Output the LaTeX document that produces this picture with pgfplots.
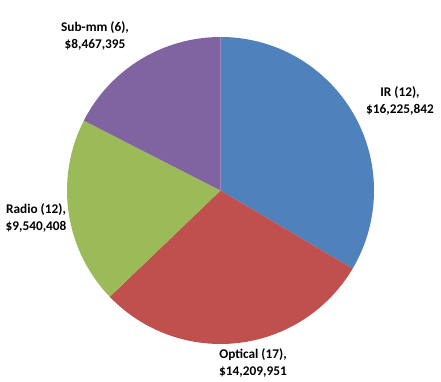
\documentclass[border=0pt]{standalone}
\usepackage{pgfplots}
\pgfplotsset{compat=1.18}
\usepackage{pgfplotstable}
\usepackage{fontspec}
\setmainfont{Carlito}

\definecolor{pieblue}{HTML}{4F81BD}
\definecolor{piered}{HTML}{C0504D}
\definecolor{piegreen}{HTML}{9BBB59}
\definecolor{piepurple}{HTML}{8064A2}

% funding per wavelength band (clockwise from 12 o'clock)
\pgfplotstableread[col sep=comma]{
name,n,value,color
IR,12,16225842,pieblue
Optical,17,14209951,piered
Radio,12,9540408,piegreen
Sub-mm,6,8467395,piepurple
}\budget

\begin{document}
\begin{tikzpicture}
\xdef\total{0}
\foreach \i in {0,...,3}{%
  \pgfplotstablegetelem{\i}{value}\of\budget
  \xdef\total{\fpeval{\total+\pgfplotsretval}}}
\begin{axis}[
    width=441pt, height=382pt, scale only axis,
    xmin=0, xmax=441, ymin=0, ymax=382,
    hide axis, clip=false,
]
\xdef\start{90}
\pgfplotsinvokeforeach{0,...,3}{%
  \pgfplotstablegetelem{#1}{value}\of\budget \let\sliceval\pgfplotsretval
  \pgfplotstablegetelem{#1}{color}\of\budget \let\slicecol\pgfplotsretval
  \xdef\stop{\fpeval{\start-360*\sliceval/\total}}
  \edef\cmd{\noexpand\fill[\slicecol] (axis cs:220.5,191.5) -- ++(\start:153.5pt)
    arc[start angle=\start, end angle=\stop, radius=153.5pt] -- cycle;}
  \cmd
  \xdef\start{\stop}
}
\path (axis cs:0,0) rectangle (axis cs:441,382);
\begin{scope}[every node/.style={align=center, font=\fontsize{13.3}{17}\selectfont\bfseries}]
\node at (axis cs:400,281) {IR (12),\\\$16,225,842};
\node at (axis cs:253,19.5) {Optical (17),\\\$14,209,951};
\node at (axis cs:36,164.5) {Radio (12),\\\$9,540,408};
\node at (axis cs:95,346) {Sub-mm (6),\\\$8,467,395};
\end{scope}
\end{axis}
\end{tikzpicture}
\end{document}
